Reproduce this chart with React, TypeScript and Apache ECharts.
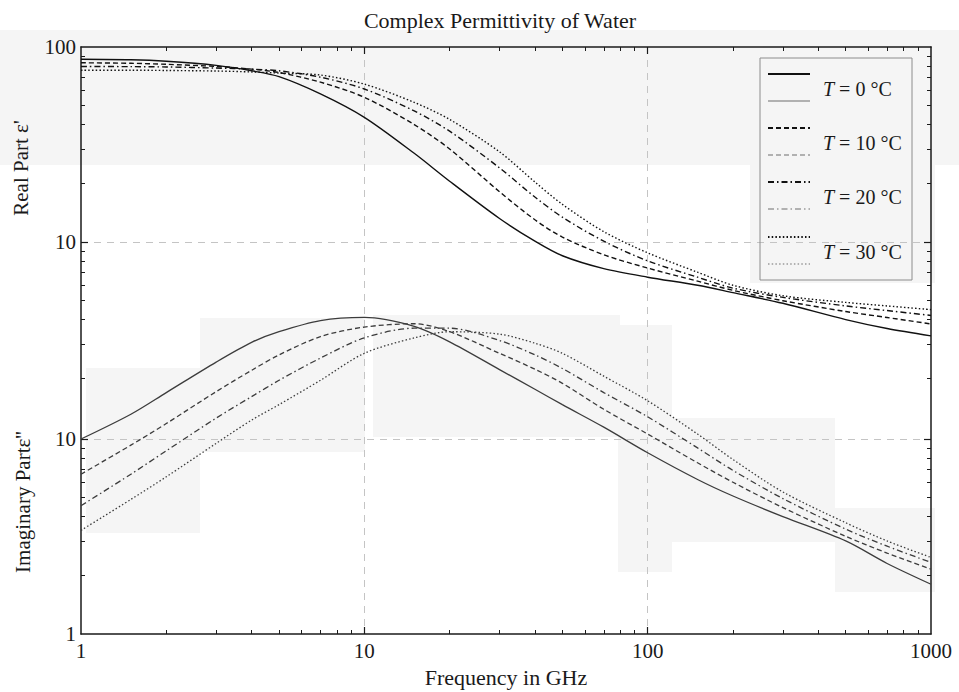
import React, { useEffect, useRef } from "react";
import * as echarts from "echarts";

// ---------- data ----------
const freqs = [1, 1.5, 2, 3, 4, 5, 7, 10, 15, 20, 30, 40, 50, 70, 100, 150, 200, 300, 500, 700, 1000];
const temps = ["0", "10", "20", "30"];

const real0 = [86.5, 86, 84.5, 80.5, 75.5, 70.5, 57.5, 43.6, 28.5, 20.5, 13.2, 10.1, 8.5, 7.3, 6.6, 6.0, 5.5, 4.85, 4.0, 3.6, 3.3];
const real10 = [83, 82.5, 81.5, 79.5, 77, 74, 66, 55.2, 40, 30, 18.1, 13.0, 10.6, 8.6, 7.35, 6.3, 5.65, 5.0, 4.4, 4.1, 3.8];
const real20 = [79.5, 79.3, 79, 78, 77, 75.5, 70, 60.9, 47, 37, 24, 17.0, 13.4, 10.1, 8.0, 6.6, 5.8, 5.2, 4.7, 4.45, 4.2];
const real30 = [76, 76, 75.8, 75.3, 74.5, 73.5, 71.8, 64.5, 52, 42.5, 29, 20.3, 15.6, 11.3, 8.8, 7.0, 6.0, 5.3, 4.9, 4.7, 4.5];

const imag0 = [10, 13.4, 17.3, 24.8, 31.3, 35.5, 40.5, 42, 37.8, 31.5, 22.7, 18.0, 15.0, 11.5, 8.5, 6.2, 5.1, 4.0, 3.0, 2.3, 1.8];
const imag10 = [6.6, 9.3, 12.0, 17.5, 22.5, 27, 33.5, 37.5, 39, 35.5, 27.5, 22.8, 19.3, 14.2, 10.6, 7.55, 6.0, 4.45, 3.17, 2.6, 2.15];
const imag20 = [4.55, 6.6, 8.7, 12.8, 16.5, 20, 26, 33, 37, 37, 32, 27, 23, 17.3, 13.0, 9.0, 6.9, 4.95, 3.45, 2.82, 2.33];
const imag30 = [3.4, 4.9, 6.4, 9.5, 12.5, 15, 20, 27.5, 33, 35.5, 34.5, 31, 27.5, 21, 15.7, 10.6, 7.85, 5.35, 3.72, 3.0, 2.47];

// tick values
const xLabels = [1, 10, 100, 1000];
const xMinor = [2, 3, 4, 5, 6, 7, 8, 9, 20, 30, 40, 50, 60, 70, 80, 90, 200, 300, 400, 500, 600, 700, 800, 900];
const xMajor = [10, 100];
const yTopLabels = [10, 100];
const yTopMinor = [2, 3, 4, 5, 6, 7, 8, 9, 20, 30, 40, 50, 60, 70, 80, 90];
const yBotLabels = [1, 10];
const yBotMinor = [2, 3, 4, 5, 6, 7, 8, 9];
const yMajor = [10];

// ---------- styling ----------
const FONT = "'Liberation Serif', 'Times New Roman', serif";
const INK = "#1a1a1a";
const REAL_COLOR = "#111111";
const IMAG_COLOR = "#3c3c3c";
const GRID_COLOR = "#c4c4c4";
const dashes: any[] = ["solid", [5, 3], [6, 3, 1.5, 3], [1.5, 2.2]];

const GRID = { left: 81, right: 28, top: 47, bottom: 58, outerBoundsMode: "none" };
// plot spans 587 px for both axes; decade = 195 px
const TOP_MIN = 0.09766;
const TOP_MAX = 100;
const BOT_MIN = 1;
const BOT_MAX = 1023.9;

function axisBase(type: string, gridIndex: number, position: string, min: number, max: number, o: any) {
  return {
    type,
    gridIndex,
    position,
    min,
    max,
    logBase: 10,
    axisLine: { show: false },
    axisTick: { show: false },
    axisLabel: { show: false },
    splitLine: { show: false },
    minorTick: { show: false },
    minorSplitLine: { show: false },
    axisPointer: { show: false },
    ...o,
  };
}

const frameLine = { show: true, lineStyle: { color: INK, width: 1.5 } };
const minorTick = (vals: number[]) => ({ show: true, inside: true, length: 4, customValues: vals, lineStyle: { color: INK, width: 1 } });
const majorTick = (vals: number[]) => ({ show: true, inside: true, length: 7, customValues: vals, lineStyle: { color: INK, width: 1.2 } });
const gridSplit = { show: true, lineStyle: { color: GRID_COLOR, width: 1, type: [7, 6] } };
const tickLabel = (vals: number[], margin: number) => ({
  show: true,
  customValues: vals,
  margin,
  fontSize: 21,
  fontFamily: FONT,
  color: INK,
  formatter: (v: number) => String(Math.round(v)),
});

function buildOption() {
  const xAxis = [
    axisBase("log", 0, "bottom", 1, 1000, {
      axisLine: frameLine,
      axisTick: minorTick(xMinor),
      axisLabel: tickLabel(xLabels, 6),
      name: "Frequency in GHz",
      nameLocation: "middle",
      nameGap: 32,
      nameTextStyle: { fontSize: 22, fontFamily: FONT, color: INK },
    }),
    axisBase("log", 0, "top", 1, 1000, { axisLine: frameLine, axisTick: minorTick(xMinor) }),
    axisBase("log", 0, "bottom", 1, 1000, { axisTick: majorTick(xMajor), splitLine: gridSplit }),
    axisBase("log", 0, "top", 1, 1000, { axisTick: majorTick(xMajor) }),
    axisBase("log", 1, "bottom", 1, 1000, {}),
  ];
  const yAxis = [
    axisBase("log", 0, "left", TOP_MIN, TOP_MAX, {
      axisLine: frameLine,
      axisTick: minorTick(yTopMinor),
      axisLabel: tickLabel(yTopLabels, 5),
    }),
    axisBase("log", 0, "right", TOP_MIN, TOP_MAX, { axisLine: frameLine, axisTick: minorTick(yTopMinor) }),
    axisBase("log", 0, "left", TOP_MIN, TOP_MAX, { axisTick: majorTick(yMajor), splitLine: gridSplit }),
    axisBase("log", 0, "right", TOP_MIN, TOP_MAX, { axisTick: majorTick(yMajor) }),
    axisBase("log", 1, "left", BOT_MIN, BOT_MAX, {
      axisTick: minorTick(yBotMinor),
      axisLabel: tickLabel(yBotLabels, 5),
    }),
    axisBase("log", 1, "right", BOT_MIN, BOT_MAX, { axisTick: minorTick(yBotMinor) }),
    axisBase("log", 1, "left", BOT_MIN, BOT_MAX, { axisTick: majorTick(yMajor), splitLine: gridSplit }),
    axisBase("log", 1, "right", BOT_MIN, BOT_MAX, { axisTick: majorTick(yMajor) }),
  ];

  const realSets = [real0, real10, real20, real30];
  const imagSets = [imag0, imag10, imag20, imag30];
  const series: any[] = [];
  realSets.forEach((vals, i) => {
    series.push({
      name: `Real T=${temps[i]}`,
      type: "line",
      xAxisIndex: 0,
      yAxisIndex: 0,
      data: freqs.map((f, k) => [f, vals[k]]),
      showSymbol: false,
      smooth: 0.3,
      lineStyle: { color: REAL_COLOR, width: 1.4, type: dashes[i] },
      z: 5,
    });
  });
  imagSets.forEach((vals, i) => {
    series.push({
      name: `Imag T=${temps[i]}`,
      type: "line",
      xAxisIndex: 4,
      yAxisIndex: 4,
      data: freqs.map((f, k) => [f, vals[k]]),
      showSymbol: false,
      smooth: 0.3,
      lineStyle: { color: IMAG_COLOR, width: 1.3, type: dashes[i] },
      z: 5,
    });
  });

  // scan shading patches + legend + texts
  const shade = "#f5f5f5";
  const patches = [
    [0, 30, 959, 135],
    [750, 165, 185, 118],
    [200, 318, 165, 134],
    [86, 368, 114, 165],
    [373, 315, 247, 122],
    [618, 325, 54, 247],
    [618, 418, 217, 124],
    [835, 508, 100, 84],
  ].map(([x, y, w, h]) => ({
    type: "rect",
    z: -10,
    silent: true,
    shape: { x, y, width: w, height: h },
    style: { fill: shade },
  }));

  const legendRows = [74, 128, 182, 237];
  const legendGap = 27;
  const legendEls: any[] = [
    {
      type: "rect",
      z: 20,
      shape: { x: 760, y: 58, width: 152, height: 222 },
      style: { fill: "rgba(255,255,255,0)", stroke: "#8c8c8c", lineWidth: 1 },
    },
  ];
  temps.forEach((t, i) => {
    const y = legendRows[i];
    const dash = dashes[i] === "solid" ? null : dashes[i];
    legendEls.push({
      type: "line",
      z: 20,
      shape: { x1: 768, y1: y, x2: 810, y2: y },
      style: { stroke: REAL_COLOR, lineWidth: 1.8, lineDash: dash },
    });
    legendEls.push({
      type: "line",
      z: 20,
      shape: { x1: 768, y1: y + legendGap, x2: 810, y2: y + legendGap },
      style: { stroke: "#9a9a9a", lineWidth: 1.4, lineDash: dash },
    });
    legendEls.push({
      type: "text",
      z: 20,
      x: 823,
      y: y + legendGap / 2 + 1,
      style: {
        text: `{i|T} = ${t} °C`,
        font: `20px ${FONT}`,
        fill: INK,
        verticalAlign: "middle",
        align: "left",
        rich: { i: { fontStyle: "italic", fontSize: 20, fontFamily: FONT, fill: INK } },
      },
    });
  });

  const texts: any[] = [
    {
      type: "text",
      x: 500,
      y: 20,
      style: { text: "Complex Permittivity of Water", font: `22px ${FONT}`, fill: INK, align: "center", verticalAlign: "middle" },
    },
    {
      type: "text",
      x: 21,
      y: 168,
      rotation: Math.PI / 2,
      style: { text: "Real Part ε'", font: `21px ${FONT}`, fill: INK, align: "center", verticalAlign: "middle" },
    },
    {
      type: "text",
      x: 23,
      y: 502,
      rotation: Math.PI / 2,
      style: { text: "Imaginary Partε''", font: `21px ${FONT}`, fill: INK, align: "center", verticalAlign: "middle" },
    },
  ];

  return {
    animation: false,
    backgroundColor: "#ffffff",
    grid: [{ ...GRID }, { ...GRID }],
    xAxis,
    yAxis,
    series,
    graphic: { elements: [...patches, ...legendEls, ...texts] },
  };
}

export default function App() {
  const ref = useRef<HTMLDivElement>(null);
  useEffect(() => {
    if (!ref.current) return;
    const chart = echarts.init(ref.current, undefined, { renderer: "svg" });
    chart.setOption(buildOption() as any);
    return () => chart.dispose();
  }, []);
  return (
    <div
      ref={ref}
      style={{ position: "fixed", left: 0, top: 0, width: 959, height: 692, background: "#fff" }}
    />
  );
}
